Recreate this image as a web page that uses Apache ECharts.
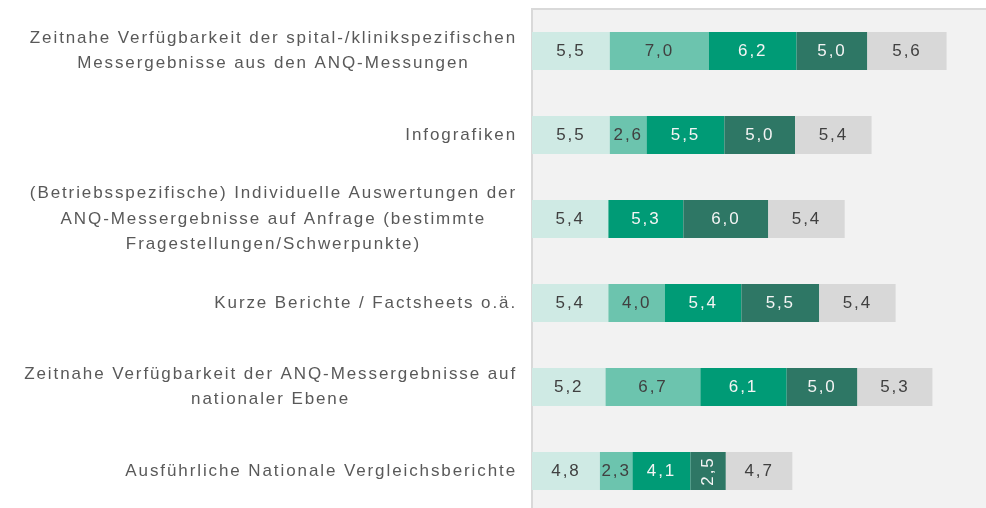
<!DOCTYPE html>
<html>
<head>
<meta charset="utf-8">
<script src="https://cdn.jsdelivr.net/npm/echarts@6/dist/echarts.min.js"></script>
<style>
  html, body { margin: 0; padding: 0; background: #ffffff; }
  #chart { width: 986px; height: 508px; }
</style>
</head>
<body>
<div id="chart"></div>
<script>
// Slightly wider tracking for every canvas text run (measure and draw alike)
const TRACKING = '1.9px';
(function () {
  const proto = CanvasRenderingContext2D.prototype;
  if (!('letterSpacing' in proto)) return;
  const fill = proto.fillText;
  const measure = proto.measureText;
  proto.fillText = function () { this.letterSpacing = TRACKING; return fill.apply(this, arguments); };
  proto.measureText = function () { this.letterSpacing = TRACKING; return measure.apply(this, arguments); };
})();

// Categories, top to bottom
const categories = [
  'Zeitnahe Verfügbarkeit der spital-/klinikspezifischen\nMessergebnisse aus den ANQ-Messungen',
  'Infografiken',
  '(Betriebsspezifische) Individuelle Auswertungen der\nANQ-Messergebnisse auf Anfrage (bestimmte\nFragestellungen/Schwerpunkte)',
  'Kurze Berichte / Factsheets o.ä.',
  'Zeitnahe Verfügbarkeit der ANQ-Messergebnisse auf\nnationaler Ebene',
  'Ausführliche Nationale Vergleichsberichte'
];

// Stacked segment values, one array per segment
const seg1 = [5.5, 5.5, 5.4, 5.4, 5.2, 4.8];
const seg2 = [7.0, 2.6, null, 4.0, 6.7, 2.3];
const seg3 = [6.2, 5.5, 5.3, 5.4, 6.1, 4.1];
const seg4 = [5.0, 5.0, 6.0, 5.5, 5.0, 2.5];
const seg5 = [5.6, 5.4, 5.4, 5.4, 5.3, 4.7];

const segments = [seg1, seg2, seg3, seg4, seg5];
const segColors = ['#cfeae4', '#6cc4ae', '#009b76', '#2e7765', '#d8d8d8'];
const labelColors = ['#404040', '#404040', '#f4f4f4', '#f4f4f4', '#404040'];
// [segment index, category index] of labels written vertically (narrow bar)
const verticalLabels = [[3, 5]];

const FONT = 'Liberation Sans, Arial, sans-serif';

function fmt(v) {
  return (v == null) ? '' : v.toFixed(1).replace('.', ',');
}

const series = segments.map(function (arr, si) {
  return {
    type: 'bar',
    stack: 'total',
    barWidth: 38,
    itemStyle: { color: segColors[si] },
    label: {
      show: true,
      position: 'inside',
      color: labelColors[si],
      fontFamily: FONT,
      fontSize: 17,
      formatter: function (p) { return fmt(p.value); }
    },
    data: arr.map(function (v, ci) {
      const vertical = verticalLabels.some(function (c) { return c[0] === si && c[1] === ci; });
      return vertical ? { value: v, label: { rotate: 90 } } : v;
    })
  };
});

const chart = echarts.init(document.getElementById('chart'), null, { renderer: 'canvas' });
chart.setOption({
  animation: false,
  backgroundColor: '#ffffff',
  grid: {
    left: 532,
    right: -3,
    top: 9,
    bottom: -5,
    show: true,
    backgroundColor: '#f2f2f2',
    borderColor: '#d9d9d9',
    borderWidth: 2,
    containLabel: false,
    outerBoundsMode: 'none'
  },
  xAxis: {
    type: 'value',
    min: 0,
    max: 32.3,
    show: false
  },
  yAxis: {
    type: 'category',
    data: categories,
    inverse: true,
    axisTick: { show: false },
    axisLine: { show: true, lineStyle: { color: '#d9d9d9', width: 2 } },
    splitLine: { show: false },
    axisLabel: {
      interval: 0,
      margin: 15,
      align: 'right',
      formatter: function (value) {
        return value.split('\n').map(function (line) { return '{c|' + line + '}'; }).join('\n');
      },
      rich: {
        c: {
          align: 'center',
          fontFamily: FONT,
          fontSize: 17,
          lineHeight: 25.5,
          color: '#595959'
        }
      }
    }
  },
  series: series
});
</script>
</body>
</html>
